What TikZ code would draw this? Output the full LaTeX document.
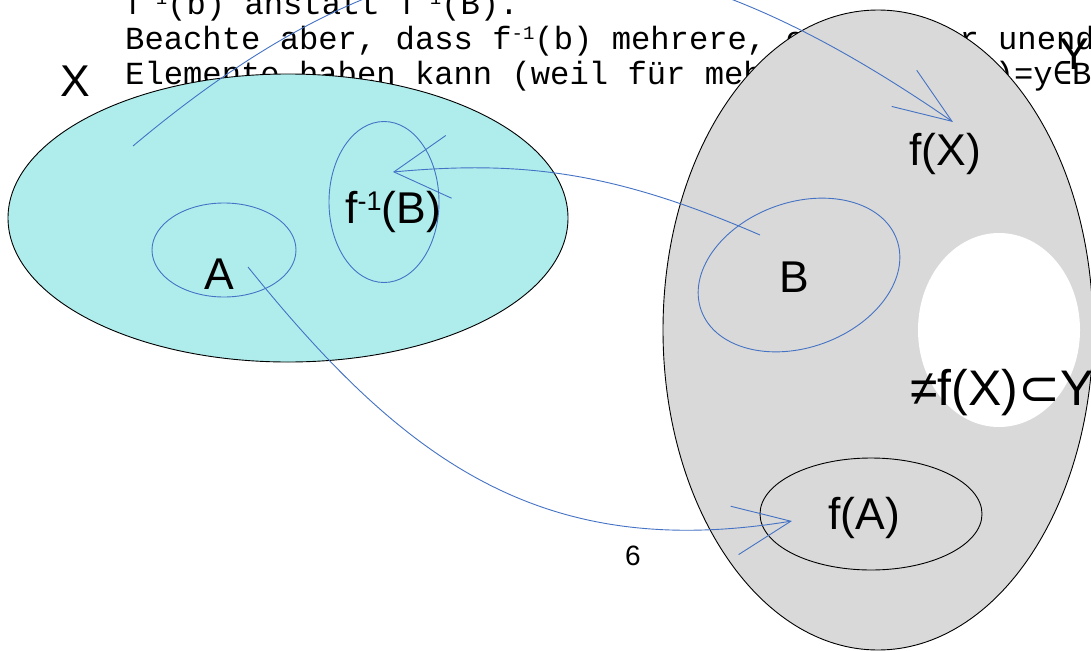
\documentclass[tikz,border=0pt]{standalone}
\usepackage{fontspec}
\setmainfont{Liberation Sans}
\newfontfamily\monofont{Liberation Mono}
\newfontfamily\djmono{DejaVu Sans Mono}
\newfontfamily\djsans{DejaVu Sans}
\usetikzlibrary{shapes.geometric,arrows.meta}
\definecolor{cyanfill}{RGB}{175,237,237}
\definecolor{greyfill}{RGB}{217,217,217}
\definecolor{linkblue}{RGB}{68,114,196}
\newcommand\supr[3]{\raisebox{#1}{\fontsize{#2}{#2}\selectfont #3}}
\newcommand\msup[1]{\supr{10pt}{19}{#1}}
\begin{document}
\begin{tikzpicture}[x=1pt,y=-1pt,
  set/.style={ellipse, inner sep=0pt, outer sep=0pt, line width=0.9pt},
  big/.style={font=\fontsize{44.5}{50}\selectfont, inner sep=0pt},
  txt/.style={font=\monofont\fontsize{32.2}{35}\selectfont, inner sep=0pt, anchor=base west},
  link/.style={draw=linkblue, line width=0.9pt}
]
\clip (0,0) rectangle (1091,650);
\fill[white] (0,0) rectangle (1091,650);
% background text
\node[txt] (l1) at (125,15) {f\msup{-1}(b) anstatt f\msup{-1}(B).};
\node[txt] (l2) at (125,50) {Beachte aber, dass f\msup{-1}(b) mehrere, oder sogar unendlich viele};
\node[txt] (l3) at (125,85) {Elemente haben kann (weil für mehrere x{\djmono ∈}X f(x)=y{\djmono ∈}B)};
% sets
\node[set, draw=black, fill=cyanfill, minimum width=560pt, minimum height=288pt] (X) at (288,218) {};
\node[set, draw=black, fill=greyfill, minimum width=430pt, minimum height=640pt] (Y) at (878,330) {};
\node[set, fill=white, minimum width=162pt, minimum height=194pt] (hole) at (999,330) {};
\node[set, draw=linkblue, minimum width=110pt, minimum height=161pt] (FB) at (384,202) {};
\node[set, draw=linkblue, minimum width=144pt, minimum height=94pt] (A) at (224,250) {};
\node[set, draw=linkblue, minimum width=208pt, minimum height=145pt, rotate=20] (B) at (799,275) {};
\node[set, draw=black, minimum width=222pt, minimum height=112pt] (FA) at (871,514) {};
% labels
\node[big, anchor=base] (lX) at (75,97) {X};
\node[big, anchor=base] (lY) at (1074,70) {Y};
\node[big, anchor=base] (lfX) at (945,165) {f(X)};
\node[big, anchor=base] (lB) at (794,292) {B};
\node[big, anchor=base] (lA) at (219,289) {A};
\node[big, anchor=base west] (lfinv) at (345,223) {f\supr{13pt}{27}{-1}(B)};
\node[big, anchor=base] (lfA) at (864,529) {f(A)};
\node[font=\fontsize{50}{55}\selectfont, inner sep=0pt, anchor=base west] (lneq) at (910,405) {≠f(X){\djsans ⊂}Y};
\node[font=\fontsize{28}{30}\selectfont, inner sep=0pt, anchor=base] (pg) at (633,565) {6};
% connectors
\coordinate (s1) at (133,146);
\coordinate (t1) at (953,122);
\coordinate (s2) at (760,235);
\coordinate (t2) at (393,172);
\coordinate (s3) at (248,267);
\coordinate (t3) at (792,521);
\draw[link, -{Straight Barb[length=58pt,width=44pt]}] (s1) .. controls (433,-106) and (653,-85) .. (t1);
\draw[link, -{Straight Barb[length=55pt,width=63pt]}] (s2) .. controls (615,172) and (523,160) .. (t2);
\draw[link, -{Straight Barb[length=57pt,width=49pt]}] (s3) .. controls (405,462) and (542,562) .. (t3);
\end{tikzpicture}
\end{document}
